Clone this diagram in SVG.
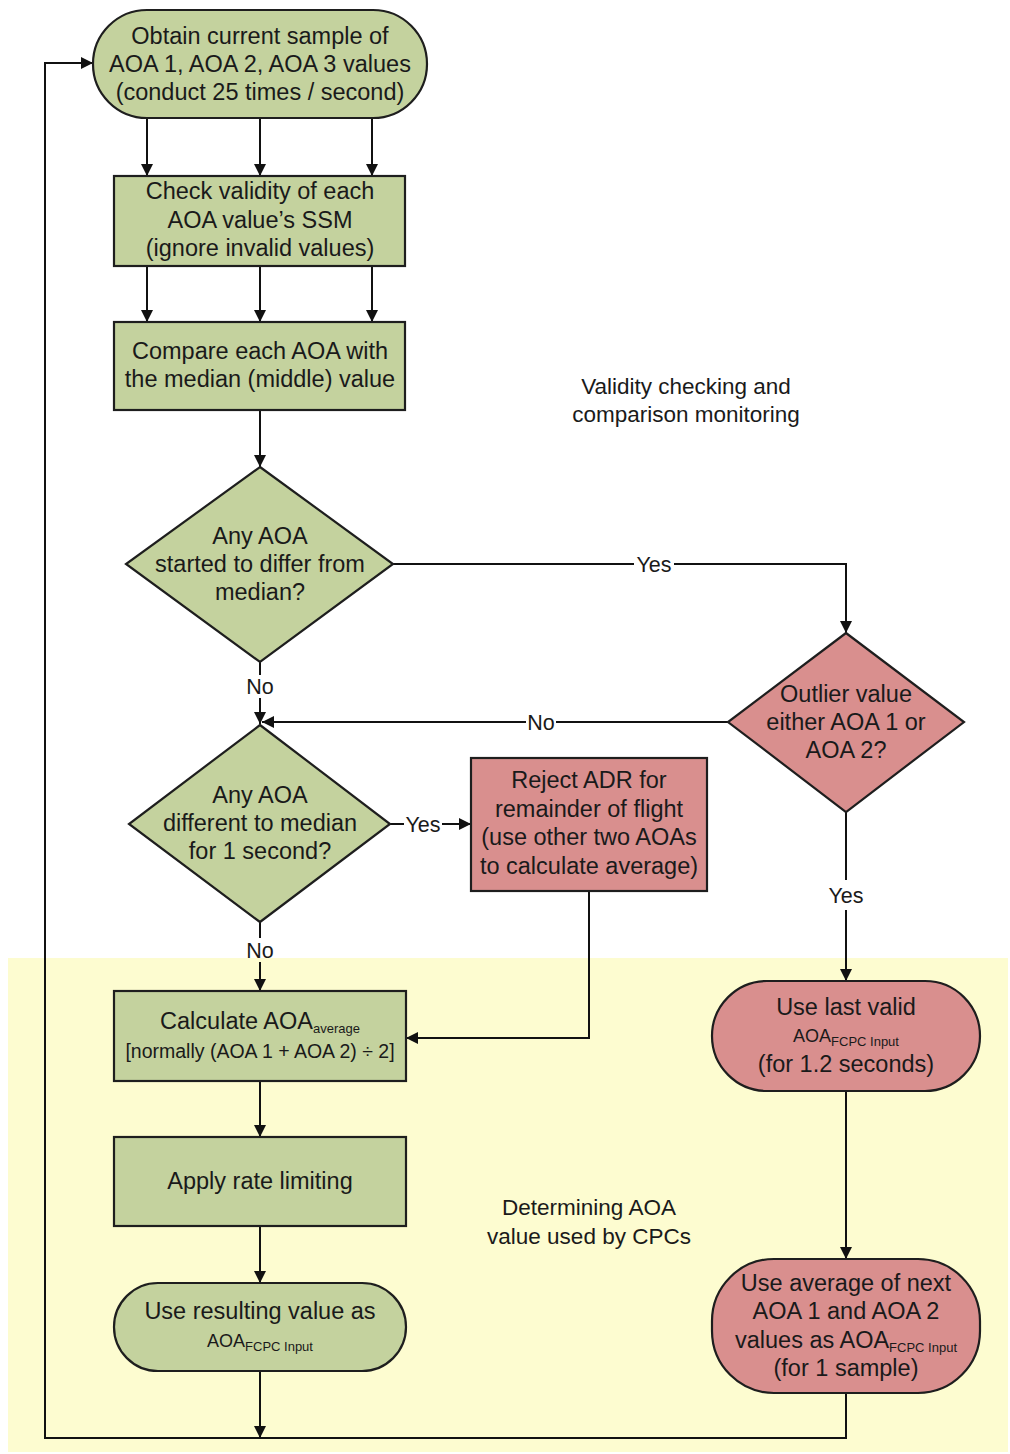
<svg xmlns="http://www.w3.org/2000/svg" width="1010" height="1454" viewBox="0 0 1010 1454">
<defs>
<style>
.g{fill:#c4d29e;stroke:#1e1e1e;stroke-width:2.2}
.p{fill:#d98f8e;stroke:#1e1e1e;stroke-width:2.2}
.t{font-family:"Liberation Sans",Arial,sans-serif;font-size:23.5px;fill:#1a1a1a;text-anchor:middle}
.s{font-size:19.5px}
.a{font-size:18px}
.sub{font-size:13px}
.l{font-family:"Liberation Sans",Arial,sans-serif;font-size:21.5px;fill:#1a1a1a;text-anchor:middle}
.c{fill:none;stroke:#111;stroke-width:2}
</style>
<marker id="ah" markerWidth="12" markerHeight="12" viewBox="0 0 12 12" refX="12" refY="6" orient="auto" markerUnits="userSpaceOnUse">
<path d="M0,0 L12,6 L0,12 z" fill="#111"/>
</marker>
</defs>
<rect width="1010" height="1454" fill="#ffffff"/>
<rect x="8" y="958" width="1000" height="494" fill="#fdfcd0"/>

<g id="connectors">
<path class="c" d="M147,118 V176" marker-end="url(#ah)"/>
<path class="c" d="M260,118 V176" marker-end="url(#ah)"/>
<path class="c" d="M372,118 V176" marker-end="url(#ah)"/>
<path class="c" d="M147,266 V322" marker-end="url(#ah)"/>
<path class="c" d="M260,266 V322" marker-end="url(#ah)"/>
<path class="c" d="M372,266 V322" marker-end="url(#ah)"/>
<path class="c" d="M260,410 V467" marker-end="url(#ah)"/>
<path class="c" d="M393,564 H846 V633" marker-end="url(#ah)"/>
<path class="c" d="M260,662 V675 M260,698 V724" marker-end="url(#ah)"/>
<path class="c" d="M728,722 H262" marker-end="url(#ah)"/>
<path class="c" d="M390,824 H471" marker-end="url(#ah)"/>
<path class="c" d="M260,922 V938 M260,962 V991" marker-end="url(#ah)"/>
<path class="c" d="M589,891 V1038 H406" marker-end="url(#ah)"/>
<path class="c" d="M846,812 V880 M846,910 V981" marker-end="url(#ah)"/>
<path class="c" d="M260,1081 V1137" marker-end="url(#ah)"/>
<path class="c" d="M260,1226 V1283" marker-end="url(#ah)"/>
<path class="c" d="M260,1371 V1438" marker-end="url(#ah)"/>
<path class="c" d="M846,1091 V1259" marker-end="url(#ah)"/>
<path class="c" d="M846,1393 V1438 H45 V63 H93" marker-end="url(#ah)"/>
<rect x="634" y="553" width="40" height="22" fill="#ffffff"/>
<text class="l" x="654" y="572">Yes</text>
<rect x="526" y="711" width="30" height="22" fill="#ffffff"/>
<text class="l" x="541" y="730">No</text>
<text class="l" x="260" y="694">No</text>
<rect x="404" y="813" width="38" height="22" fill="#ffffff"/>
<text class="l" x="423" y="832">Yes</text>
<text class="l" x="260" y="958">No</text>
<text class="l" x="846" y="903">Yes</text>
</g>

<g id="n1">
<rect class="g" x="93" y="10" width="334" height="108" rx="54" ry="54"/>
<text class="t" x="260" y="44">Obtain current sample of</text>
<text class="t" x="260" y="72">AOA 1, AOA 2, AOA 3 values</text>
<text class="t" x="260" y="100">(conduct 25 times / second)</text>
</g>
<g id="n2">
<rect class="g" x="114" y="176" width="291" height="90"/>
<text class="t" x="260" y="199">Check validity of each</text>
<text class="t" x="260" y="228">AOA value’s SSM</text>
<text class="t" x="260" y="256">(ignore invalid values)</text>
</g>
<g id="n3">
<rect class="g" x="114" y="322" width="291" height="88"/>
<text class="t" x="260" y="359">Compare each AOA with</text>
<text class="t" x="260" y="387">the median (middle) value</text>
</g>
<g id="n4">
<polygon class="g" points="260,467 393,564 260,662 126,564"/>
<text class="t" x="260" y="544">Any AOA</text>
<text class="t" x="260" y="572">started to differ from</text>
<text class="t" x="260" y="600">median?</text>
</g>
<g id="n5">
<polygon class="p" points="846,633 964,722 846,812 728,722"/>
<text class="t" x="846" y="702">Outlier value</text>
<text class="t" x="846" y="730">either AOA 1 or</text>
<text class="t" x="846" y="758">AOA 2?</text>
</g>
<g id="n6">
<polygon class="g" points="260,725 390,824 260,922 129,824"/>
<text class="t" x="260" y="803">Any AOA</text>
<text class="t" x="260" y="831">different to median</text>
<text class="t" x="260" y="859">for 1 second?</text>
</g>
<g id="n7">
<rect class="p" x="471" y="758" width="236" height="133"/>
<text class="t" x="589" y="788">Reject ADR for</text>
<text class="t" x="589" y="817">remainder of flight</text>
<text class="t" x="589" y="845">(use other two AOAs</text>
<text class="t" x="589" y="874">to calculate average)</text>
</g>
<g id="n8">
<rect class="g" x="114" y="991" width="292" height="90"/>
<text class="t" x="260" y="1029">Calculate AOA<tspan class="sub" dy="4">average</tspan></text>
<text class="t s" x="260" y="1058">[normally (AOA 1 + AOA 2) ÷ 2]</text>
</g>
<g id="n9">
<rect class="g" x="114" y="1137" width="292" height="89"/>
<text class="t" x="260" y="1189">Apply rate limiting</text>
</g>
<g id="n10">
<rect class="g" x="114" y="1283" width="292" height="88" rx="44" ry="44"/>
<text class="t" x="260" y="1319">Use resulting value as</text>
<text class="t a" x="260" y="1347">AOA<tspan class="sub" dy="4">FCPC Input</tspan></text>
</g>
<g id="n11">
<rect class="p" x="712" y="981" width="268" height="110" rx="55" ry="55"/>
<text class="t" x="846" y="1015">Use last valid</text>
<text class="t a" x="846" y="1042">AOA<tspan class="sub" dy="4">FCPC Input</tspan></text>
<text class="t" x="846" y="1072">(for 1.2 seconds)</text>
</g>
<g id="n12">
<rect class="p" x="712" y="1259" width="268" height="134" rx="62" ry="62"/>
<text class="t" x="846" y="1291">Use average of next</text>
<text class="t" x="846" y="1319">AOA 1 and AOA 2</text>
<text class="t" x="846" y="1348">values as AOA<tspan class="sub" dy="4">FCPC Input</tspan></text>
<text class="t" x="846" y="1376">(for 1 sample)</text>
</g>
<g id="labels">
<text class="t" x="686" y="394" style="font-size:22.5px">Validity checking and</text>
<text class="t" x="686" y="422" style="font-size:22.5px">comparison monitoring</text>
<text class="t" x="589" y="1215" style="font-size:22.5px">Determining AOA</text>
<text class="t" x="589" y="1244" style="font-size:22.5px">value used by CPCs</text>
</g>
</svg>
